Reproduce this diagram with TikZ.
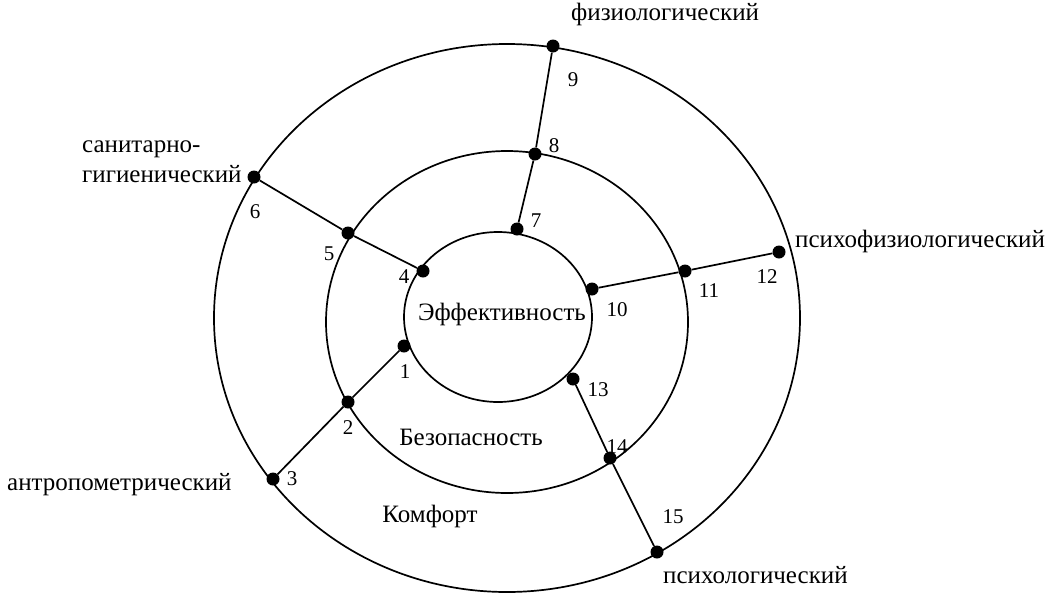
\documentclass[tikz,border=0pt]{standalone}
\usepackage{fontspec}
\setmainfont{Liberation Serif}
\tikzstyle{ring} = [line width=1.7pt]
\tikzstyle{link} = [line width=1.7pt]
\tikzstyle{dot} = [circle, fill=black, inner sep=0pt, minimum size=13pt]
\tikzstyle{num} = [inner sep=0pt, font=\fontsize{21}{25}\selectfont]
\tikzstyle{lbl} = [inner sep=0pt, font=\fontsize{25}{30}\selectfont]

\begin{document}
\begin{tikzpicture}[x=1pt, y=-1pt]
            \useasboundingbox (0,0) rectangle (1052,603);
            \draw [ring] (507,318) ellipse [x radius=293, y radius=274];
            \draw [ring] (507,322) ellipse [x radius=181, y radius=171];
            \draw [ring] (498,317) ellipse [x radius=94, y radius=85];

            \node (d1) [dot] at (404,346) {};
            \node (d2) [dot] at (348,402) {};
            \node (d3) [dot] at (273,479) {};
            \node (d4) [dot] at (423,271) {};
            \node (d5) [dot] at (348,233) {};
            \node (d6) [dot] at (254,177) {};
            \node (d7) [dot] at (517,229) {};
            \node (d8) [dot] at (535,154) {};
            \node (d9) [dot] at (553,46) {};
            \node (d10) [dot] at (592,289) {};
            \node (d11) [dot] at (685,271) {};
            \node (d12) [dot] at (779,252) {};
            \node (d13) [dot] at (573,379) {};
            \node (d14) [dot] at (610,458) {};
            \node (d15) [dot] at (657,552) {};

            \node (n1) [num] at ([shift={(1,26)}]d1) {1};
            \node (n2) [num] at ([shift={(0,26)}]d2) {2};
            \node (n3) [num] at ([shift={(19,0)}]d3) {3};
            \node (n4) [num] at ([shift={(-19,6)}]d4) {4};
            \node (n5) [num] at ([shift={(-19,21)}]d5) {5};
            \node (n6) [num] at ([shift={(1,35)}]d6) {6};
            \node (n7) [num] at ([shift={(19,-8)}]d7) {7};
            \node (n8) [num] at ([shift={(19,-8)}]d8) {8};
            \node (n9) [num] at ([shift={(20,34)}]d9) {9};
            \node (n10) [num] at ([shift={(25,21)}]d10) {10};
            \node (n11) [num] at ([shift={(24,20)}]d11) {11};
            \node (n12) [num] at ([shift={(-12,25)}]d12) {12};
            \node (n13) [num] at ([shift={(25,11)}]d13) {13};
            \node (n14) [num] at ([shift={(7,-11)}]d14) {14};
            \node (n15) [num] at ([shift={(16,-35)}]d15) {15};

            \node (fiz) [lbl, anchor=base west] at (571,20) {физиологический};
            \node (san) [lbl, anchor=west, align=left] at (82,162) {санитарно-\\гигиенический};
            \node (psyfiz) [lbl, anchor=base west] at (795,247) {психофизиологический};
            \node (antr) [lbl, anchor=base west] at (7,490) {антропометрический};
            \node (psy) [lbl, anchor=base west] at (663,583) {психологический};
            \node (eff) [lbl, anchor=base] at (502,320) {Эффективность};
            \node (bez) [lbl, anchor=base] at (471,445) {Безопасность};
            \node (komf) [lbl, anchor=base] at (430,522) {Комфорт};

            \draw [link] (d9) -- (d8) -- (d7);
            \draw [link] (d6) -- (d5) -- (d4);
            \draw [link] (d12) -- (d11) -- (d10);
            \draw [link] (d1) -- (d2) -- (d3);
            \draw [link] (d13) -- (d14) -- (d15);
        \end{tikzpicture}
\end{document}
